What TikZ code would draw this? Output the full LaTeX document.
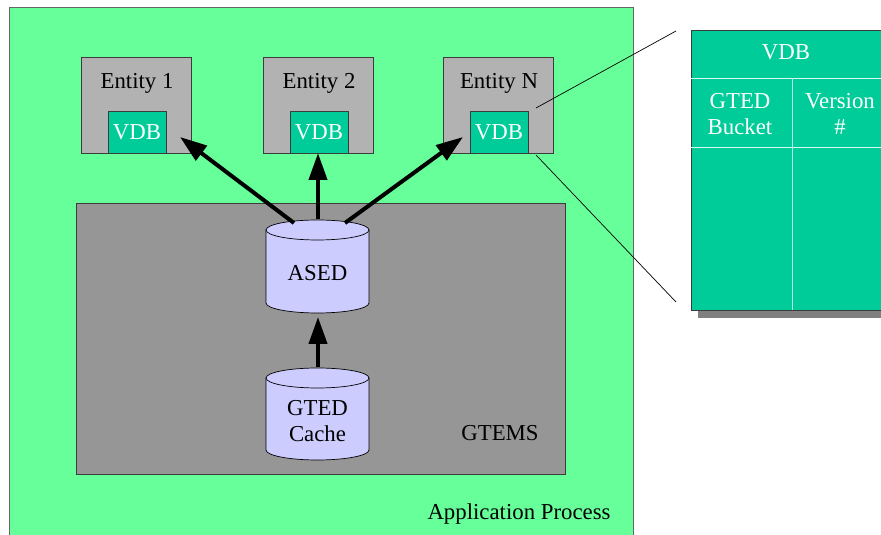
\documentclass[tikz,border=0pt]{standalone}
\usepackage{fontspec}
\setmainfont{Liberation Serif}
\usetikzlibrary{arrows.meta,calc}
\definecolor{apgreen}{RGB}{102,255,153}
\definecolor{entgray}{RGB}{178,178,178}
\definecolor{gtemsgray}{RGB}{150,150,150}
\definecolor{vdbteal}{RGB}{0,204,153}
\definecolor{cylfill}{RGB}{204,204,255}
\definecolor{edgegray}{RGB}{60,60,60}
\begin{document}
\begin{tikzpicture}[x=1pt,y=1pt,
  every node/.style={font=\fontsize{22.8}{26}\selectfont, inner sep=0pt},
  entbox/.style={draw=edgegray, line width=0.8pt, fill=entgray},
  vdbbox/.style={draw=edgegray, line width=0.8pt, fill=vdbteal},
  cyl/.style={draw=black, line width=0.7pt, fill=cylfill},
  bigarrow/.style={line width=4pt, -{Triangle[length=27pt,width=18pt]}},
  callout/.style={line width=0.7pt, draw=black},
  wtext/.style={text=white, align=center}]
\useasboundingbox (0,0) rectangle (881,535);
\clip (0,0) rectangle (881,535);
% Application process
\draw[fill=apgreen, draw=gray!80!black, line width=0.8pt] (9,-10) rectangle (633,528);
\node[anchor=center] (app) at (519,21) {Application Process};
% GTEMS
\draw[fill=gtemsgray, draw=edgegray, line width=0.8pt] (76,61) rectangle (565,332);
\node (gtems) at (500,102) {GTEMS};
% Entities
\foreach \x/\i/\lab in {81/1/Entity 1, 263/2/Entity 2, 443/N/Entity N}{
  \draw[entbox] (\x,382) rectangle ++(110,96);
  \node (ent\i) at (\x+56,452) {\lab};
  \draw[vdbbox] (\x+27,382) rectangle ++(58,42);
  \node[text=white] (vdb\i) at (\x+56,403) {VDB};
}
% Cylinders
\draw[cyl] (266,305) -- (266,232) arc (180:360:51.5 and 10) -- (369,305);
\draw[cyl] (317.5,305) ellipse (51.5 and 10);
\node (ased) at (317.5,262) {ASED};
\draw[cyl] (266,157) -- (266,85) arc (180:360:51.5 and 10) -- (369,157);
\draw[cyl] (317.5,157) ellipse (51.5 and 10);
\node[align=center] (cache) at (317.5,114) {GTED\\Cache};
% arrow coordinates
\coordinate (a1s) at (294,312);
\coordinate (a1e) at (180,398);
\coordinate (a2s) at (318,316);
\coordinate (a2e) at (318,382);
\coordinate (a3s) at (345,312);
\coordinate (a3e) at (463,398);
\coordinate (a4s) at (318,168);
\coordinate (a4e) at (318,218);
\draw[bigarrow] (a1s) -- (a1e);
\draw[bigarrow] (a2s) -- (a2e);
\draw[bigarrow] (a3s) -- (a3e);
\draw[bigarrow] (a4s) -- (a4e);
% VDB table
\fill[gray] (698,217) rectangle (890,498);
\draw[fill=vdbteal, draw=edgegray, line width=0.8pt] (691,225) rectangle (890,505);
\draw[white!85!vdbteal, line width=0.8pt] (691,457) -- (890,457);
\draw[white!85!vdbteal, line width=0.8pt] (691,388) -- (890,388);
\draw[white!70!vdbteal, line width=0.8pt] (792,225) -- (792,457);
\node[text=white] (thead) at (786,483) {VDB};
\node[wtext] (tcol1) at (740,421) {GTED\\Bucket};
\node[wtext] (tcol2) at (840,421) {Version\\\#};
% callout lines
\coordinate (c1s) at (536,427);
\coordinate (c1e) at (676,504);
\coordinate (c2s) at (536,380);
\coordinate (c2e) at (676,233);
\draw[callout] (c1s) -- (c1e);
\draw[callout] (c2s) -- (c2e);
\end{tikzpicture}
\end{document}
